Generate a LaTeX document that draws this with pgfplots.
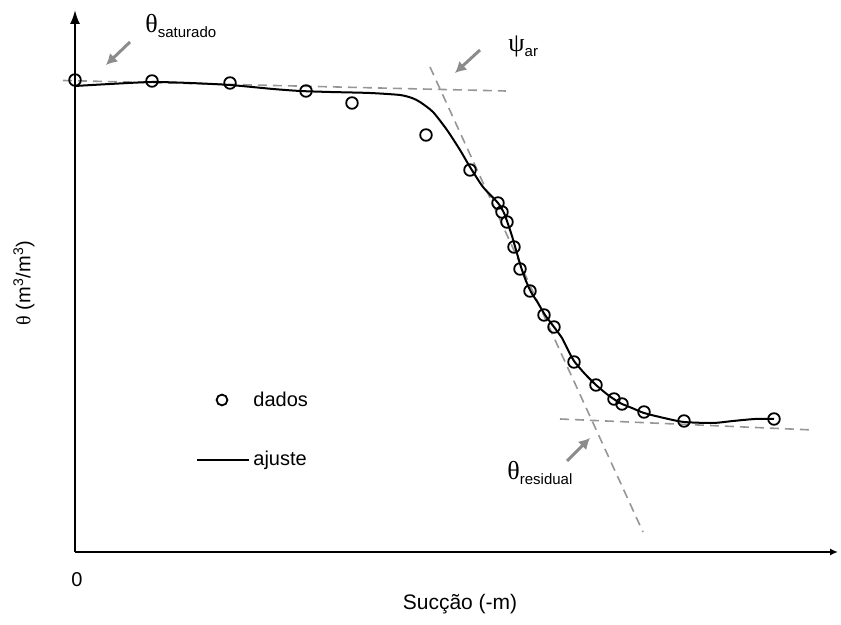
\documentclass[border=0pt]{standalone}
\usepackage{pgfplots}
\pgfplotsset{compat=1.18}
\usetikzlibrary{arrows.meta}
\usepackage{fontspec}
\setmainfont{Liberation Sans}
\newfontfamily\gr{Liberation Serif}
\definecolor{dgray}{RGB}{150,150,150}
\definecolor{agray}{RGB}{140,140,140}
\begin{document}
\begin{tikzpicture}
\begin{axis}[
  x=0.5pt, y=0.5pt,
  xmin=75, xmax=838, ymin=73, ymax=615,
  axis x line=bottom, axis y line=left,
  x axis line style={line width=1pt,-{Latex[length=4pt,width=3.5pt]}},
  y axis line style={line width=1pt,-{Latex[length=7pt,width=5pt]}},
  xtick=\empty, ytick=\empty,
  clip=false,
]
\coordinate (BL) at (axis cs:0,0);
\coordinate (TR) at (axis cs:841,625);
% dashed construction lines
\addplot[dgray, line width=0.8pt, dash pattern=on 4.5pt off 3pt] coordinates {(63,544.5) (506,534)};
\addplot[dgray, line width=0.8pt, dash pattern=on 4.5pt off 3pt] coordinates {(430,558) (643,93)};
\addplot[dgray, line width=0.8pt, dash pattern=on 4.5pt off 3pt] coordinates {(560,206) (813,195)};
% fitted curve
\addplot[black, line width=1pt, smooth, tension=0.4] coordinates {
(75,539) (110,541) (152,543) (190,542) (230,540) (273,536) (300,534) (330,533)
(370,532) (400,530) (412,527) (420,523) (433,513) (447,495) (460,475) (470,458)
(483,438) (498,422) (504,412) (508,401) (512,389) (516,375) (521,358) (526,344)
(531,333) (538,322) (545,310) (554,298) (562,287) (567,277) (574,264) (585,251)
(596,240) (608,230) (620,222) (632,217) (644,212) (664,207) (684,203) (713,202)
(733,204) (755,206) (774,206)};
% data
\addplot[only marks, mark=o, mark size=2.9pt, mark options={line width=0.9pt, black}] coordinates {
(75,545) (152,544) (230,542) (306,534) (352,522) (426,490) (470,455) (498,422)
(502,413) (507,403) (514,378) (520,356) (530,334) (544,310) (554,298) (574,263)
(596,240) (614,226) (622,221) (644,213) (684,204) (774,206)};
% legend
\addplot[only marks, mark=o, mark size=2.7pt, mark options={line width=0.9pt, black}] coordinates {(222,225)};
\addplot[black, line width=1pt] coordinates {(197,165) (249,165)};
\node[anchor=west, inner sep=0pt, font=\fontsize{10}{12}\selectfont] at (axis cs:253,226) {dados};
\node[anchor=west, inner sep=0pt, font=\fontsize{10}{12}\selectfont] at (axis cs:253,165) {ajuste};
% arrows
\draw[agray, line width=1.5pt, -{Latex[length=5.5pt,width=6pt]}] (axis cs:130,583) -- (axis cs:106,560);
\draw[agray, line width=1.5pt, -{Latex[length=5.5pt,width=6pt]}] (axis cs:480,575) -- (axis cs:455,552);
\draw[agray, line width=1.5pt, -{Latex[length=5.5pt,width=6pt]}] (axis cs:567,164) -- (axis cs:590,187);
% annotations
\node[anchor=base west, inner sep=0pt] at (axis cs:145,592) {{\gr\fontsize{13}{13}\selectfont θ}\raisebox{-2.2pt}{\fontsize{7.5}{8}\selectfont saturado}};
\node[anchor=base west, inner sep=0pt] at (axis cs:508,573) {{\gr\fontsize{13}{13}\selectfont ψ}\raisebox{-2.2pt}{\fontsize{7.5}{8}\selectfont ar}};
\node[anchor=base west, inner sep=0pt] at (axis cs:507,145) {{\gr\fontsize{13}{13}\selectfont θ}\raisebox{-2.2pt}{\fontsize{7.5}{8}\selectfont residual}};
% axis labels
\node[font=\fontsize{10}{12}\selectfont] at (axis cs:77,45) {0};
\node[font=\fontsize{10.5}{12}\selectfont] at (axis cs:460,21) {Sucção (-m)};
\node[rotate=90, font=\fontsize{10}{12}\selectfont] at (axis cs:24,342) {{\gr θ} (m\textsuperscript{3}/m\textsuperscript{3})};
\end{axis}
\pgfresetboundingbox
\path (BL) rectangle (TR);
\end{tikzpicture}
\end{document}
